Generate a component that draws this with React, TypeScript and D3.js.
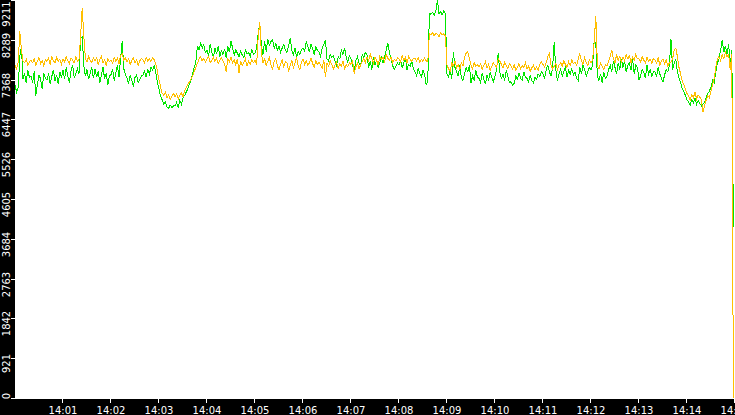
import { useEffect, useRef } from 'react';
import * as d3 from 'd3';

// 14:00:00 .. 14:15:00, one sample every 2 seconds
const startTime = new Date(2024, 0, 1, 14, 0, 0);
const endTime = new Date(2024, 0, 1, 14, 15, 0);
const sampleStepSec = 2;

const yMax = 9211;
const yTicks = [0, 921, 1842, 2763, 3684, 4605, 5526, 6447, 7368, 8289, 9211];
const xTicks = ['14:01', '14:02', '14:03', '14:04', '14:05', '14:06', '14:07', '14:08',
  '14:09', '14:10', '14:11', '14:12', '14:13', '14:14', '14:15'];

const orangeValues = [
  7700, 7620, 7760, 8490, 8060, 7800, 7760, 7840, 7700, 7780,
  7820, 7760, 7850, 7700, 7790, 7880, 7740, 7810, 7680, 7830,
  7790, 7860, 7720, 7900, 7810, 7750, 7880, 7790, 7840, 7720,
  7850, 7780, 7900, 7810, 7740, 7870, 7820, 7760, 7890, 7800,
  7830, 8360, 9020, 8380, 7850, 7780, 7900, 7820, 7760, 7870,
  7800, 7880, 7720, 7840, 7910, 7760, 7830, 7700, 7850, 7790,
  7820, 7750, 7880, 7800, 7860, 7740, 7930, 7960, 7810, 7870,
  7780, 7850, 7720, 7810, 7870, 7760, 7830, 7700, 7800, 7860,
  7820, 7760, 7880, 7800, 7850, 7790, 7870, 7830, 7740, 7560,
  7360, 7200, 7050, 7010, 7080, 6950, 7020, 6900, 6980, 7050,
  6980, 7040, 6920, 7010, 7060, 6960, 7120, 7180, 7250, 7320,
  7380, 7450, 7550, 7650, 7750, 7840, 7900, 7800, 7860, 7780,
  7850, 7900, 7760, 7820, 7880, 7790, 7860, 7740, 7810, 7870,
  7800, 7720, 7550, 7840, 7780, 7890, 7760, 7830, 7700, 7850,
  7520, 7800, 7700, 7760, 7850, 7680, 7790, 7730, 7820, 7760,
  7820, 7700, 8350, 8700, 7980, 7760, 7850, 7700, 7790, 7880,
  7700, 7620, 7790, 7850, 7680, 7600, 7740, 7820, 7660, 7780,
  7760, 7550, 7700, 7820, 7640, 7750, 7880, 7690, 7600, 7780,
  7850, 7720, 7800, 7690, 7760, 7870, 7740, 7650, 7800, 7720,
  7780, 7700, 7640, 7820, 7430, 7750, 7680, 7800, 7720, 7620,
  7700, 7780, 7620, 7740, 7680, 7800, 7600, 7720, 7660, 7760,
  7720, 7800, 7500, 7660, 7750, 7620, 7700, 7780, 7850, 7760,
  7900, 7800, 7960, 7850, 7750, 7880, 7820, 7700, 7900, 7840,
  7880, 7790, 7950, 7860, 7820, 7900, 7760, 7840, 7800, 7870,
  7850, 7780, 7920, 7810, 7880, 7760, 7900, 7830, 7790, 7860,
  7860, 7800, 7880, 7760, 7840, 7790, 7870, 7800, 7780, 8440,
  8400, 8460, 8380, 8440, 8420, 8360, 8450, 8400, 8430, 8380,
  7700, 7620, 7560, 7750, 7680, 7800, 7640, 7720, 7600, 7760,
  7680, 7900, 7980, 8010, 7850, 7700, 7620, 7760, 7680, 7720,
  7660, 7740, 7600, 7700, 7780, 7640, 7720, 7580, 7680, 7760,
  7700, 7650, 7850, 7800, 7720, 7640, 7760, 7690, 7620, 7740,
  7680, 7620, 7720, 7580, 7660, 7740, 7620, 7700, 7640, 7760,
  7620, 7680, 7560, 7640, 7700, 7600, 7660, 7580, 7720, 7780,
  7720, 7650, 7760, 7900, 7980, 7700, 7620, 7680, 7740, 7600,
  7700, 7760, 7680, 7800, 7720, 7650, 7780, 7700, 7820, 7740,
  7780, 7700, 7850, 7960, 7800, 7720, 7880, 7760, 7700, 7820,
  7760, 7820, 8250, 8840, 7700, 7620, 7750, 7680, 7600, 7720,
  7680, 7800, 7900, 8050, 7850, 7760, 7950, 7820, 7900, 7780,
  7900, 7800, 7950, 7850, 7920, 7760, 7880, 7820, 7960, 7850,
  7850, 7780, 7900, 7820, 7760, 7880, 7800, 7840, 7750, 7860,
  7820, 7750, 7880, 7700, 7800, 7850, 7740, 7820, 7680, 7760,
  7780, 7850, 8050, 8100, 7900, 7650, 7500, 7350, 7250, 7150,
  7050, 6980, 6900, 7020, 6950, 7080, 6920, 7010, 6960, 6900,
  6618, 6780, 6900, 7000, 6950, 7100, 7250, 7400, 7650, 7850,
  7900, 7800, 7950, 7850, 8000, 7900, 7950, 7600, 7950, 0,
];

const greenValues = [
  7240, 7080, 7190, 7900, 8120, 7380, 7520, 7300, 7600, 7420,
  7450, 7300, 7560, 7000, 7250, 7480, 7380, 7150, 7520, 7400,
  7360, 7520, 7260, 7440, 7600, 7330, 7480, 7270, 7550, 7420,
  7580, 7380, 7650, 7450, 7300, 7560, 7700, 7420, 7500, 7620,
  7500, 8340, 8360, 7700, 7450, 7600, 7380, 7520, 7650, 7400,
  7620, 7420, 7560, 7300, 7480, 7650, 7390, 7520, 7250, 7460,
  7480, 7600, 7350, 7520, 7700, 7430, 7850, 8260, 7620, 7480,
  7400, 7280, 7460, 7350, 7200, 7420, 7480, 7300, 7380, 7450,
  7480, 7560, 7420, 7600, 7500, 7650, 7580, 7700, 7520, 7300,
  7150, 6980, 6900, 6800, 6850, 6740, 6700, 6780, 6720, 6760,
  6760, 6840, 6730, 6890, 6800, 6950, 7000, 7080, 7150, 7260,
  7350, 7500, 7650, 7780, 8150, 8060, 8210, 8100, 8180, 7990,
  8050, 7920, 8200, 8000, 7880, 8100, 7960, 8150, 7900, 8030,
  7950, 8080, 7880, 8150, 8000, 8260, 8100, 7940, 8050, 7980,
  7900, 8020, 7940, 7880, 8060, 7970, 8000, 7900, 8080, 7950,
  7980, 8100, 8450, 8680, 8150, 7950, 8250, 8020, 8300, 8160,
  8250, 8300, 8100, 8200, 8050, 8150, 8000, 8100, 8180, 8040,
  8000, 8150, 8330, 8050, 7950, 8100, 7880, 8020, 7960, 8060,
  8100, 8030, 8240, 8140, 8000, 8200, 8080, 7960, 8120, 8050,
  8000, 7900, 8100, 8180, 8280, 7850, 7800, 7950, 7880, 7920,
  7800, 7700, 7900, 7850, 8050, 7950, 8100, 7880, 7780, 7920,
  7850, 7700, 7580, 7800, 7900, 7750, 7680, 7950, 7880, 8000,
  7950, 7650, 7800, 7600, 7900, 7700, 7820, 7650, 7750, 7880,
  7750, 7900, 8050, 8215, 8000, 7850, 7700, 7600, 7680, 7750,
  7700, 7820, 7640, 7750, 7880, 7600, 7720, 7680, 7800, 7620,
  7550, 7460, 7620, 7500, 7430, 7580, 7480, 7243, 7350, 8900,
  8880, 8920, 8850, 8950, 9211, 8900, 8940, 8870, 8960, 8900,
  7500, 7420, 7600, 7380, 8010, 7650, 7550, 7450, 7700, 7400,
  7350, 7500, 7650, 7550, 7700, 7300, 7450, 7350, 7600, 7420,
  7400, 7300, 7520, 7380, 7260, 7480, 7350, 7550, 7420, 7320,
  7450, 7600, 7980, 7550, 7400, 7500, 7350, 7580, 7450, 7300,
  7320, 7243, 7280, 7450, 7380, 7520, 7400, 7350, 7550, 7420,
  7400, 7320, 7480, 7350, 7300, 7420, 7380, 7500, 7450, 7550,
  7500, 7400, 7600, 7700, 7550, 7450, 7650, 8240, 7600, 7350,
  7500, 7600, 7450, 7550, 7650, 7420, 7580, 7500, 7620, 7480,
  7550, 7400, 7350, 7650, 7500, 7700, 7600, 7450, 7550, 7650,
  7600, 7700, 8280, 8200, 7450, 7350, 7500, 7300, 7550, 7400,
  7450, 7600, 7700, 7550, 7800, 7650, 7500, 7750, 7600, 7850,
  7650, 7800, 7550, 7700, 7750, 7600, 7850, 7500, 7700, 7650,
  7360, 7450, 7600, 7550, 7400, 7700, 7500, 7600, 7450, 7550,
  7550, 7450, 7650, 7500, 7400, 7310, 7480, 7600, 7550, 7700,
  8300, 7600, 7750, 7850, 7550, 7400, 7300, 7150, 7100, 7000,
  6900, 6850, 6780, 6900, 6830, 6950, 6800, 6880, 6820, 6760,
  6800, 6850, 6950, 7050, 7100, 7200, 7350, 7300, 7550, 7750,
  7850, 8050, 8280, 8000, 8150, 7950, 8200, 7700, 8050, 3957,
];

const FONT = '"DejaVu Sans", Verdana, sans-serif';

export default function App() {
  const ref = useRef<SVGSVGElement>(null);

  useEffect(() => {
    if (!ref.current) return;
    const W = 735, H = 415;
    const left = 15;
    const plotBottom = 398;

    const x = d3.scaleTime().domain([startTime, endTime]).range([left, W]);
    const y = d3.scaleLinear().domain([0, yMax]).range([plotBottom, 0]);

    const svg = d3.select(ref.current);
    svg.selectAll('*').remove();

    svg.append('rect').attr('width', W).attr('height', H).attr('fill', '#fff');

    const timeAt = (i: number) => new Date(startTime.getTime() + i * sampleStepSec * 1000);
    const line = d3.line<number>()
      .x((_, i) => x(timeAt(i)))
      .y(d => y(d));

    // green underneath, orange on top
    svg.append('path')
      .attr('d', line(greenValues)!)
      .attr('fill', 'none')
      .attr('stroke', '#00e600')
      .attr('stroke-width', 1)
      .attr('shape-rendering', 'crispEdges');
    svg.append('path')
      .attr('d', line(orangeValues)!)
      .attr('fill', 'none')
      .attr('stroke', '#ffbf00')
      .attr('stroke-width', 1)
      .attr('shape-rendering', 'crispEdges');

    // black axis strips
    svg.append('rect').attr('x', 0).attr('y', 0).attr('width', left).attr('height', H).attr('fill', '#000');
    svg.append('rect').attr('x', 0).attr('y', plotBottom + 1).attr('width', W).attr('height', H - plotBottom - 1).attr('fill', '#000');

    // y axis
    const yg = svg.append('g');
    yTicks.forEach(v => {
      const yy = Math.round(y(v));
      yg.append('line')
        .attr('x1', 11).attr('x2', left)
        .attr('y1', yy + 0.5).attr('y2', yy + 0.5)
        .attr('stroke', '#fff').attr('shape-rendering', 'crispEdges');
      const c = Math.max(14, Math.min(396, yy + 5.5));
      yg.append('text')
        .attr('transform', `translate(10,${c}) rotate(-90)`)
        .attr('text-anchor', 'middle')
        .attr('fill', '#fff')
        .attr('font-family', FONT)
        .attr('font-size', 10)
        .text(String(v));
    });

    // x axis
    const parseHM = d3.timeParse('%H:%M');
    const xg = svg.append('g');
    xTicks.forEach(label => {
      const hm = parseHM(label)!;
      const d = new Date(startTime);
      d.setHours(hm.getHours(), hm.getMinutes(), 0, 0);
      const xx = Math.round(x(d)) - 0.5;
      xg.append('line')
        .attr('x1', xx).attr('x2', xx)
        .attr('y1', plotBottom + 1).attr('y2', plotBottom + 5)
        .attr('stroke', '#fff').attr('shape-rendering', 'crispEdges');
      xg.append('text')
        .attr('x', x(d))
        .attr('y', 414)
        .attr('text-anchor', 'middle')
        .attr('fill', '#fff')
        .attr('font-family', FONT)
        .attr('font-size', 10)
        .text(label);
    });
  }, []);

  return (
    <div style={{ position: 'fixed', left: 0, top: 0 }}>
      <svg ref={ref} width={735} height={415} style={{ display: 'block' }} />
    </div>
  );
}
